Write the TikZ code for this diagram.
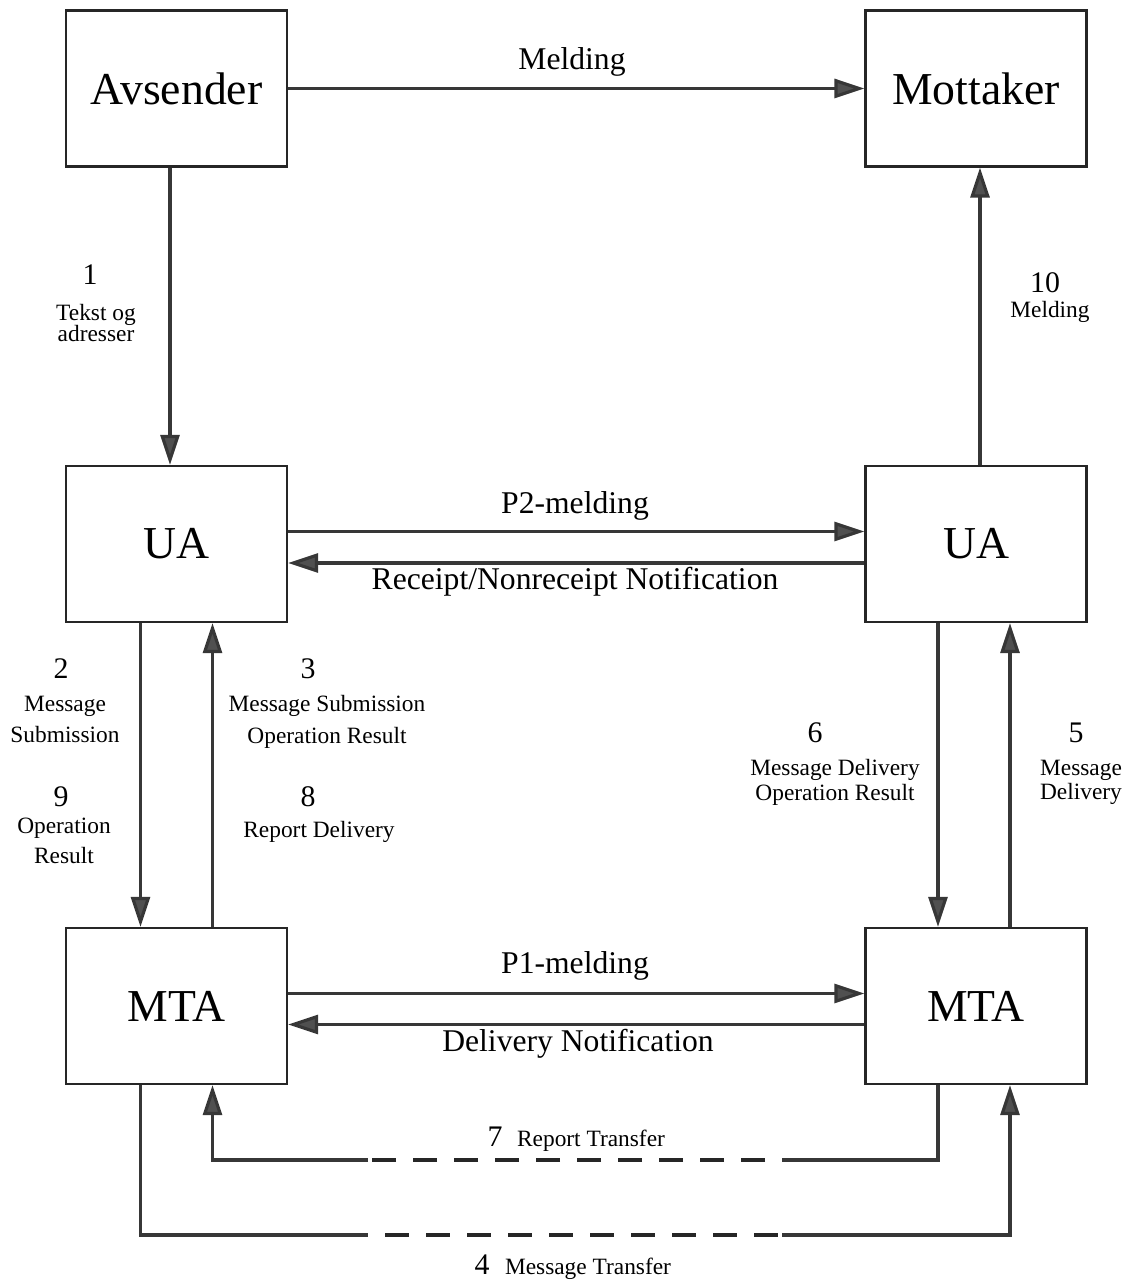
\documentclass[tikz,border=0pt]{standalone}
\usepackage{fontspec}
\setmainfont{Liberation Serif}
\usetikzlibrary{arrows.meta,positioning}
\definecolor{linecolor}{RGB}{55,55,55}
\definecolor{headcolor}{RGB}{80,80,80}

\begin{document}
\begin{tikzpicture}[
    box/.style={rectangle, draw=black!85, line width=1.3pt, minimum width=4.42cm, minimum height=3.12cm, font=\fontsize{26}{30}\selectfont},
    arrow/.style={-{Triangle[length=0.6cm, width=0.38cm, fill=headcolor]}, draw=linecolor, line width=1.8pt},
    line/.style={draw=linecolor, line width=1.8pt},
    gap/.style={draw=black!85, line width=2.6pt, dash pattern=on 0.48cm off 0.34cm, dash phase=0.48cm},
    tag/.style={font=\fontsize{18}{21}\selectfont},
    num/.style={anchor=base, font=\fontsize{17}{20}\selectfont},
    lbl/.style={align=center, font=\fontsize{13.3}{15}\selectfont}
]
    \useasboundingbox (0,0) rectangle (22.82,25.74);

    % Boxes
    \node[box] (avs) at (3.53, 23.97) {Avsender};
    \node[box] (mot) at (19.52, 23.97) {Mottaker};
    \node[box] (uaL) at (3.53, 14.86) {UA};
    \node[box] (uaR) at (19.52, 14.86) {UA};
    \node[box] (mtaL) at (3.53, 5.62) {MTA};
    \node[box] (mtaR) at (19.52, 5.62) {MTA};

    % Top row
    \draw[arrow] (avs) -- (mot);
    \node[tag] (mel) at (11.44, 24.50) {Melding};

    \draw[arrow] ([xshift=-0.13cm]avs.south) -- ([xshift=-0.13cm]uaL.north);
    \node[num] (n1) at (1.80, 20.04) {1};
    \node[lbl] (t1) at (1.92, 19.28) {Tekst og\\[-3pt]adresser};

    \draw[arrow] ([xshift=0.08cm]uaR.north) -- ([xshift=0.08cm]mot.south);
    \node[num] (n10) at (20.90, 19.88) {10};
    \node[lbl] (t10) at (21.00, 19.51) {Melding};

    % UA to UA
    \draw[arrow] ([yshift=0.25cm]uaL.east) -- ([yshift=0.25cm]uaR.west);
    \node[tag] (p2) at (11.50, 15.62) {P2-melding};
    \draw[arrow] ([yshift=-0.38cm]uaR.west) -- ([yshift=-0.38cm]uaL.east);
    \node[tag] (rcpt) at (11.50, 14.10) {Receipt/Nonreceipt Notification};

    % UA and MTA, left
    \draw[arrow] ([xshift=-0.72cm]uaL.south) -- ([xshift=-0.72cm]mtaL.north);
    \draw[arrow] ([xshift=0.72cm]mtaL.north) -- ([xshift=0.72cm]uaL.south);
    \node[num] (n2) at (1.22, 12.16) {2};
    \node[lbl] (t2) at (1.30, 11.35) {Message\\[3pt]Submission};
    \node[num] (n9) at (1.22, 9.60) {9};
    \node[lbl] (t9) at (1.28, 8.92) {Operation\\[2pt]Result};
    \node[num] (n3) at (6.16, 12.16) {3};
    \node[lbl] (t3) at (6.54, 11.30) {Message Submission\\[3pt]Operation Result};
    \node[num] (n8) at (6.16, 9.60) {8};
    \node[lbl] (t8) at (6.38, 9.10) {Report Delivery};

    % UA and MTA, right
    \draw[arrow] ([xshift=-0.76cm]uaR.south) -- ([xshift=-0.76cm]mtaR.north);
    \draw[arrow] ([xshift=0.68cm]mtaR.north) -- ([xshift=0.68cm]uaR.south);
    \node[num] (n6) at (16.30, 10.88) {6};
    \node[lbl] (t6) at (16.70, 10.09) {Message Delivery\\[-1pt]Operation Result};
    \node[num] (n5) at (21.52, 10.88) {5};
    \node[lbl] (t5) at (21.62, 10.09) {Message\\[-1pt]Delivery};

    % MTA to MTA
    \draw[arrow] ([yshift=0.25cm]mtaL.east) -- ([yshift=0.25cm]mtaR.west);
    \node[tag] (p1) at (11.50, 6.42) {P1-melding};
    \draw[arrow] ([yshift=-0.37cm]mtaR.west) -- ([yshift=-0.37cm]mtaL.east);
    \node[tag] (dnot) at (11.56, 4.86) {Delivery Notification};

    % Report transfer
    \coordinate (rtA) at (7.36, 2.54);
    \coordinate (rtB) at (15.64, 2.54);
    \draw[line] ([xshift=-0.76cm]mtaR.south) |- (rtB);
    \draw[gap] (rtB) -- (rtA);
    \draw[arrow] (rtA) -| ([xshift=0.72cm]mtaL.south);
    \node[num] (n7) at (9.90, 2.80) {7};
    \node[lbl, anchor=base] (t7) at (11.82, 2.80) {Report Transfer};

    % Message transfer
    \coordinate (mtA) at (7.36, 1.04);
    \coordinate (mtB) at (15.64, 1.04);
    \draw[line] ([xshift=-0.72cm]mtaL.south) |- (mtA);
    \draw[gap] (mtA) -- (mtB);
    \draw[arrow] (mtB) -| ([xshift=0.68cm]mtaR.south);
    \node[num] (n4) at (9.64, 0.26) {4};
    \node[lbl, anchor=base] (t4) at (11.76, 0.26) {Message Transfer};
\end{tikzpicture}
\end{document}
